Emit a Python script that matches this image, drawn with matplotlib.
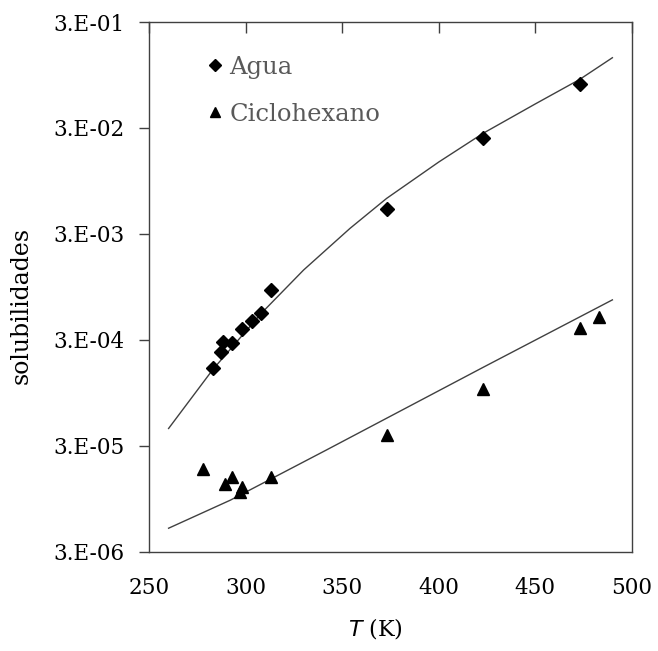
import matplotlib
matplotlib.use("Agg")
import matplotlib.pyplot as plt

# Experimental solubilities (mole fraction) vs temperature
t_agua = [283, 287, 288, 293, 298, 303, 308, 313, 373, 423, 473]
s_agua = [1.63e-4, 2.31e-4, 2.87e-4, 2.81e-4, 3.76e-4, 4.53e-4, 5.40e-4,
          8.83e-4, 5.15e-3, 2.39e-2, 7.79e-2]

t_ciclo = [278, 289, 293, 297, 298, 313, 373, 423, 473, 483]
s_ciclo = [1.83e-5, 1.30e-5, 1.51e-5, 1.11e-5, 1.22e-5, 1.53e-5, 3.78e-5,
           1.02e-4, 3.87e-4, 4.88e-4]

# Model curves
t_agua_fit = [260, 283, 308, 330, 354, 373, 400, 423, 450, 473, 490]
s_agua_fit = [4.37e-5, 1.58e-4, 5.33e-4, 1.37e-3, 3.38e-3, 6.49e-3, 1.43e-2,
              2.67e-2, 5.05e-2, 8.6e-2, 1.38e-1]

t_ciclo_fit = [260, 292, 342, 423, 490]
s_ciclo_fit = [5.0e-6, 9.2e-6, 2.75e-5, 1.65e-4, 7.15e-4]

x_ticks = [250, 300, 350, 400, 450, 500]
y_ticks = [3e-6, 3e-5, 3e-4, 3e-3, 3e-2, 3e-1]
y_tick_labels = ["3.E-06", "3.E-05", "3.E-04", "3.E-03", "3.E-02", "3.E-01"]

plt.rcParams["font.family"] = ["DejaVu Serif"]

fig = plt.figure(figsize=(6.58, 6.51), dpi=100)
ax = fig.add_axes([0.2269, 0.1525, 0.7331, 0.8137])

line_col = "#404040"
ax.plot(t_agua_fit, s_agua_fit, color=line_col, lw=1.0, zorder=2)
ax.plot(t_ciclo_fit, s_ciclo_fit, color=line_col, lw=1.0, zorder=2)

ax.plot(t_agua, s_agua, linestyle="none", marker="D", ms=7.5, color="black",
        label="Agua", zorder=3)
ax.plot(t_ciclo, s_ciclo, linestyle="none", marker="^", ms=9, color="black",
        label="Ciclohexano", zorder=3)

ax.set_yscale("log")
ax.set_xlim(250, 500)
ax.set_ylim(3e-6, 3e-1)
ax.minorticks_off()

ax.set_yticks(y_ticks)
ax.set_yticklabels(y_tick_labels)
ax.set_xticks(x_ticks)

# x ticks drawn along the top edge pointing inward, labels at the bottom
ax.tick_params(axis="x", which="major", bottom=False, top=True,
               labelbottom=True, labeltop=False, direction="in",
               length=8, width=1, color=line_col, labelsize=15.5, pad=18)
ax.tick_params(axis="y", which="major", left=True, right=False,
               direction="out", length=7, width=1, color=line_col,
               labelsize=15.5, pad=11)

for s in ax.spines.values():
    s.set_color(line_col)
    s.set_linewidth(1.0)

ax.set_ylabel("solubilidades", fontsize=17)
ax.yaxis.set_label_coords(-0.241, 0.464)
ax.set_xlabel(r"$T$ (K)", fontsize=16)
ax.xaxis.set_label_coords(0.468, -0.122)

leg = ax.legend(loc="upper left", bbox_to_anchor=(0.075, 0.978), frameon=False,
                fontsize=17.5, handlelength=0.6, handletextpad=0.3,
                labelspacing=1.0, markerscale=0.75)
for txt in leg.get_texts():
    txt.set_color("#595959")

fig.savefig("out.png", dpi=100)
